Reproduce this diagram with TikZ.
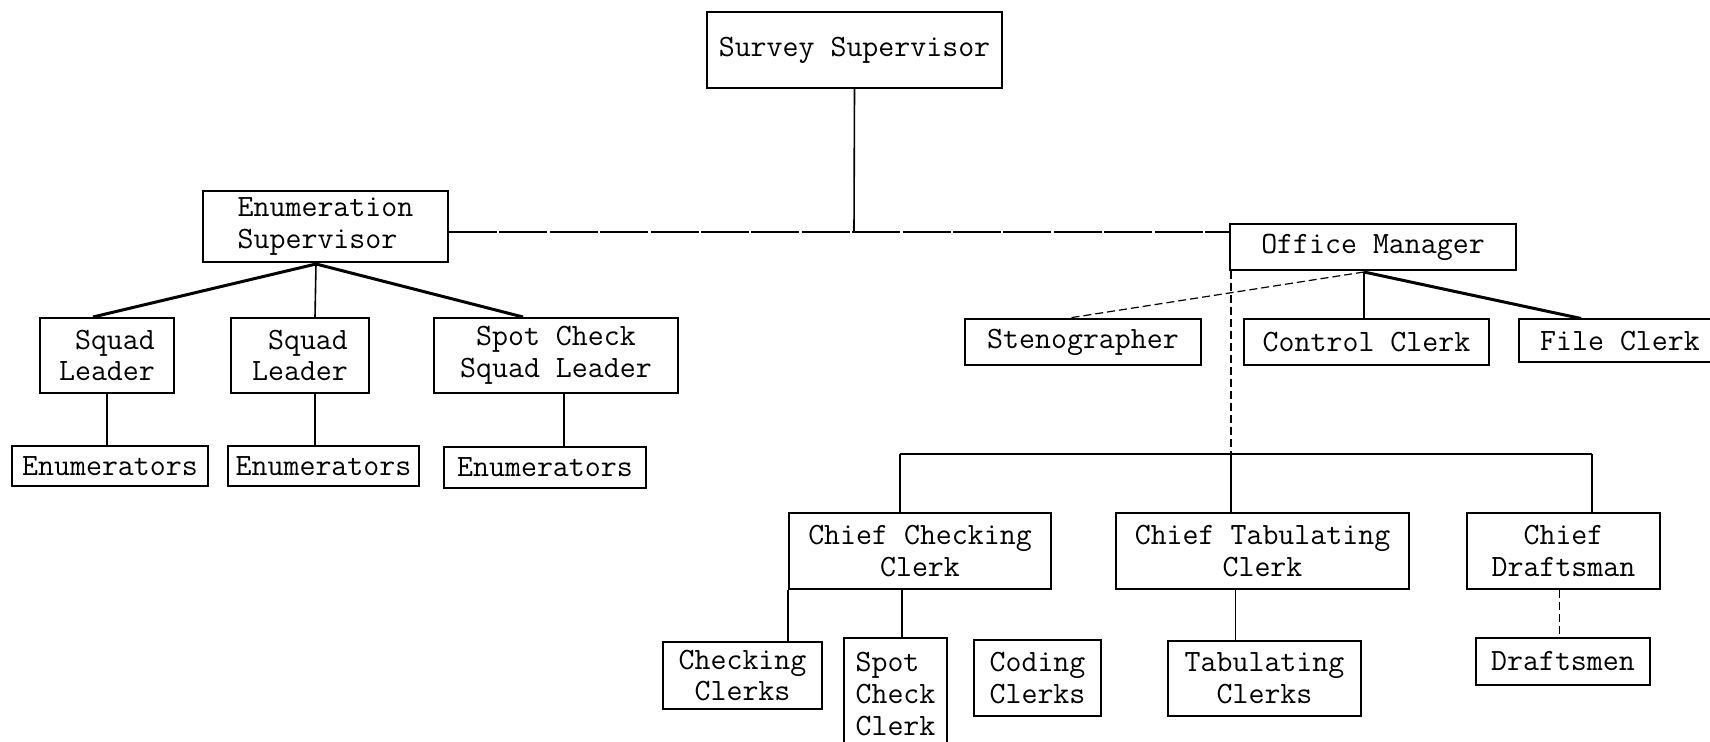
\documentclass[tikz,border=0pt]{standalone}
\usetikzlibrary{calc}
\begin{document}
\begin{tikzpicture}[x=0.5pt,y=-0.5pt,
  box/.style={draw, line width=1pt, inner sep=0pt, align=center,
    font=\ttfamily\fontsize{15.5}{15.8}\selectfont},
  sz/.style 2 args={minimum width=#1*0.5pt, minimum height=#2*0.5pt},
  conn/.style={line width=0.8pt},
  fanline/.style={line width=1.5pt},
  busline/.style={line width=1.1pt},
  brokenline/.style={line width=1pt, dash pattern=on 24pt off 1.2pt},
  faintline/.style={line width=0.6pt, dash pattern=on 4pt off 2pt}]
\useasboundingbox (0,0) rectangle (1710,742);

% top level
\node[box,sz={295}{76}] (sup) at (854.5,50) {Survey Supervisor};
\node[box,sz={245}{71},align=left] (enum) at (325.5,226.5) {Enumeration\\Supervisor};
\node[box,sz={286}{46}] (office) at (1373,247) {Office Manager};

% enumeration branch
\node[box,sz={134}{75},align=right] (sq1) at (107,355.5) {Squad\\Leader};
\node[box,sz={138}{75},align=right] (sq2) at (300,355.5) {Squad\\Leader};
\node[box,sz={244}{75}] (spot) at (556,355.5) {Spot Check\\Squad Leader};
\node[box,sz={196}{40}] (en1) at (110,466) {Enumerators};
\node[box,sz={191}{40}] (en2) at (323.5,466) {Enumerators};
\node[box,sz={202}{41}] (en3) at (545,467.5) {Enumerators};

% office branch
\node[box,sz={236}{46}] (steno) at (1083,342) {Stenographer};
\node[box,sz={245}{46}] (control) at (1366.5,342) {Control Clerk};
\node[box,sz={202}{43}] (file) at (1620,341) {File Clerk};

\node[box,sz={262}{76}] (chk) at (920,551) {Chief Checking\\Clerk};
\node[box,sz={293}{76}] (tab) at (1262.5,551) {Chief Tabulating\\Clerk};
\node[box,sz={193}{76}] (dra) at (1563.5,551) {Chief\\Draftsman};

\node[box,sz={159}{67}] (chks) at (742.5,675.5) {Checking\\Clerks};
\node[box,sz={103}{112},align=left] (spc) at (895.5,694) {Spot\\Check\\Clerk};
\node[box,sz={127}{76}] (cod) at (1037.5,678) {Coding\\Clerks};
\node[box,sz={193}{75}] (tabs) at (1264.5,678.5) {Tabulating\\Clerks};
\node[box,sz={174}{47}] (drs) at (1563,661.5) {Draftsmen};

% top connectors
\coordinate (j) at (854,232);
\draw[conn] (sup.south) -- (j);
\draw[brokenline] (enum.east |- j) -- (office.west |- j);

% enumeration fan
\coordinate (ef) at ($(enum.south)+(-9.5,1)$);
\draw[fanline] (ef) -- ($(sq1.north)+(-14,0)$);
\draw[conn] (ef) -- ($(sq2.north)+(15,0)$);
\draw[fanline] (ef) -- ($(spot.north)+(-33,0)$);

\draw[conn] (sq1.south) -- (sq1.south |- en1.north);
\coordinate (s2) at ($(sq2.south)+(15,0)$);
\draw[conn] (s2) -- (s2 |- en2.north);
\coordinate (s3) at ($(spot.south)+(8,0)$);
\draw[conn] (s3) -- (s3 |- en3.north);

% office fan
\coordinate (of) at ($(office.south)+(-9,1)$);
\draw[faintline] (of) -- ($(steno.north)+(-14,0)$);
\draw[conn] (of) -- (of |- control.north);
\draw[fanline] (of) -- ($(file.north)+(-39,0)$);

% office down line and bus
\coordinate (busL) at (900,454);
\coordinate (busR) at (1592,454);
\coordinate (ov) at ($(office.south west)+(2,0)$);
\draw[faintline] (ov) -- (ov |- busL);
\draw[conn] (ov |- busL) -- (ov |- tab.north);
\draw[busline] (busL) -- (busR);
\draw[conn] (busL) -- (busL |- chk.north);
\draw[conn] (busR) -- (busR |- dra.north);

% lower connectors
\draw[conn] (chk.south west) -- (chk.south west |- chks.north);
\coordinate (c2) at ($(chk.south)+(-18,0)$);
\draw[conn] (c2) -- (c2 |- spc.north);
\coordinate (t2) at ($(tab.south)+(-27,0)$);
\draw[conn] (t2) -- (t2 |- tabs.north);
\coordinate (d2) at ($(dra.south)+(-4,0)$);
\draw[faintline] (d2) -- (d2 |- drs.north);
\end{tikzpicture}
\end{document}
